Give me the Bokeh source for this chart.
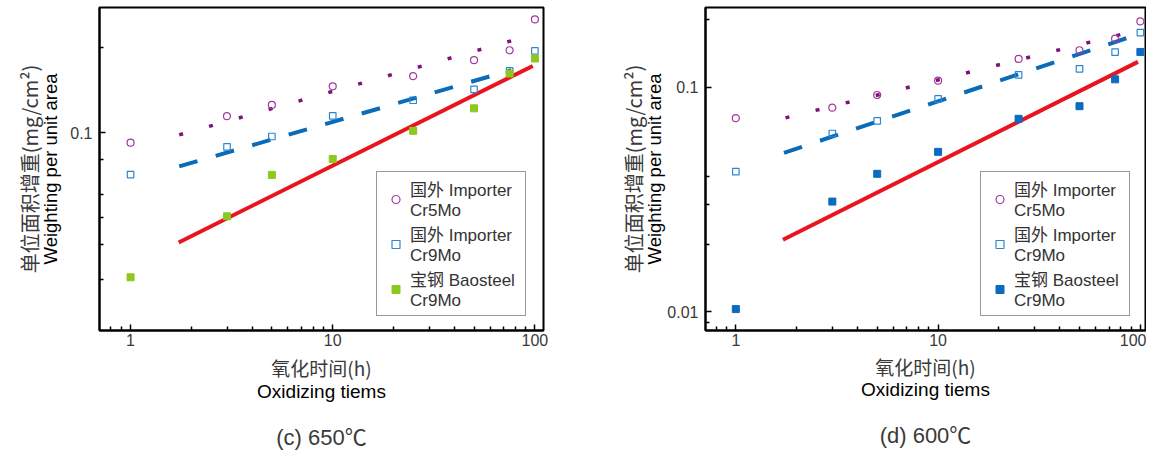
from bokeh.plotting import figure
from bokeh.models import LogAxis, FixedTicker, BasicTickFormatter, Legend, LegendItem, Range1d
from bokeh.layouts import row
from bokeh.embed import file_html
from bokeh.resources import INLINE

# ---------------- data ----------------
hours = [1, 3, 5, 10, 25, 50, 75, 100]

# (c) 650 C
c_cr5mo_imp = [0.0920, 0.1143, 0.1253, 0.1459, 0.1586, 0.1807, 0.1960, 0.2522]
c_cr9mo_imp = [0.0709, 0.0890, 0.0968, 0.1146, 0.1302, 0.1423, 0.1656, 0.1949]
c_cr9mo_bao = [0.0306, 0.0504, 0.0707, 0.0805, 0.1014, 0.1219, 0.1620, 0.1832]
c_fit5_x = [1.74, 88.0]
c_fit5_y = [0.0981, 0.2180]
c_fit9_x = [1.74, 76.4]
c_fit9_y = [0.0758, 0.1666]
c_fitb_x = [1.73, 97.6]
c_fitb_y = [0.0407, 0.1724]

# (d) 600 C
d_cr5mo_imp = [0.0729, 0.0812, 0.0924, 0.1070, 0.1338, 0.1462, 0.1647, 0.1965]
d_cr9mo_imp = [0.0421, 0.0623, 0.0709, 0.0888, 0.1137, 0.1209, 0.1433, 0.1752]
d_cr9mo_bao = [0.0103, 0.0310, 0.0412, 0.0516, 0.0724, 0.0824, 0.1085, 0.1437]
d_fit5_x = [1.76, 90.0]
d_fit5_y = [0.0731, 0.1764]
d_fit9_x = [1.73, 95.3]
d_fit9_y = [0.0511, 0.1710]
d_fitb_x = [1.71, 97.3]
d_fitb_y = [0.02096, 0.1298]

x_major = [1, 10, 100]
x_minor = [0.8, 0.9, 2, 3, 4, 5, 6, 7, 8, 9, 20, 30, 40, 50, 60, 70, 80, 90]
c_y_major = [0.1]
c_y_minor = [0.03, 0.04, 0.05, 0.06, 0.08, 0.2]
d_y_major = [0.01, 0.1]
d_y_minor = [0.009, 0.02, 0.03, 0.04, 0.2]

legend_labels = ["国外 Importer\nCr5Mo", "国外 Importer\nCr9Mo", "宝钢 Baosteel\nCr9Mo"]

LATIN = "Liberation Sans, Noto Sans CJK SC"
CJK = "Noto Sans CJK SC"
GRAY = "#3a3a3a"


def blank_axis(label, size, font, color, standoff):
    return LogAxis(ticker=FixedTicker(ticks=[]), axis_label=label,
                   axis_line_color=None, major_tick_line_color=None,
                   minor_tick_line_color=None, major_label_text_font_size="0px",
                   major_tick_in=0, major_tick_out=0, minor_tick_in=0, minor_tick_out=0,
                   major_label_standoff=0, axis_label_standoff=standoff,
                   axis_label_text_font_size=size, axis_label_text_font_style="normal",
                   axis_label_text_font=font, axis_label_text_color=color)


def make_panel(width, bl, br, bb, xr, yr, ymaj, ymin, s5, s9, sb, f5, f9, fb,
               bao_color, caption, leg_loc, st):
    # st: standoffs (x tick, cjk xlabel, eng xlabel, caption, eng ylabel, cjk ylabel)
    p = figure(width=width, height=452, x_axis_type="log", y_axis_type="log",
               x_range=Range1d(*xr), y_range=Range1d(*yr),
               output_backend="svg", toolbar_location=None,
               min_border_left=bl, min_border_right=br, min_border_top=7,
               min_border_bottom=bb, background_fill_color="white",
               border_fill_color="white")
    p.grid.visible = False
    p.outline_line_color = "black"
    p.outline_line_width = 2

    for ax in (p.xaxis[0], p.yaxis[0]):
        ax.formatter = BasicTickFormatter()
        ax.axis_line_width = 2
        ax.major_tick_in = 6
        ax.major_tick_out = 0
        ax.minor_tick_in = 4
        ax.minor_tick_out = 0
        ax.major_tick_line_width = 1.5
        ax.minor_tick_line_width = 1.5
        ax.major_label_text_font_size = "16px"
        ax.major_label_text_color = GRAY
        ax.major_label_text_font = "Liberation Sans"
        ax.axis_label_text_font_style = "normal"

    xa = p.xaxis[0]
    xa.ticker = FixedTicker(ticks=x_major, minor_ticks=x_minor)
    xa.major_label_standoff = st[0]
    xa.axis_label = "氧化时间(h)"
    xa.axis_label_text_font = CJK
    xa.axis_label_text_font_size = "19px"
    xa.axis_label_text_color = GRAY
    xa.axis_label_standoff = st[1]

    ya = p.yaxis[0]
    ya.ticker = FixedTicker(ticks=ymaj, minor_ticks=ymin)
    ya.major_label_standoff = 7
    ya.axis_label = "Weighting per unit area"
    ya.axis_label_text_font = "Liberation Sans"
    ya.axis_label_text_font_size = "18.5px"
    ya.axis_label_text_color = "black"
    ya.axis_label_standoff = st[4]

    p.add_layout(blank_axis("Oxidizing tiems", "19px", "Liberation Sans", "black", st[2]), "below")
    p.add_layout(blank_axis(caption, "22px", LATIN, GRAY, st[3]), "below")
    p.add_layout(blank_axis("单位面积增重(mg/cm²)", "20px", CJK, GRAY, st[5]), "left")

    p.line(f5[0], f5[1], line_color="#7d127d", line_width=3.5, line_dash="4 27")
    p.line(f9[0], f9[1], line_color="#0a6cb8", line_width=4, line_dash="19 19")
    p.line(fb[0], fb[1], line_color="#e8141e", line_width=4)

    r1 = p.scatter(hours, s5, marker="circle", size=7, fill_color=None,
                   line_color="#a3389f", line_width=1.2)
    r2 = p.scatter(hours, s9, marker="square", size=6.5, fill_color=None,
                   line_color="#2d87d2", line_width=1.2)
    r3 = p.scatter(hours, sb, marker="square", size=7, fill_color=bao_color,
                   line_color=bao_color)

    leg = Legend(items=[LegendItem(label=legend_labels[0], renderers=[r1]),
                        LegendItem(label=legend_labels[1], renderers=[r2]),
                        LegendItem(label=legend_labels[2], renderers=[r3])],
                 location=leg_loc, orientation="vertical", padding=4, spacing=0,
                 margin=0, glyph_width=29, glyph_height=20, label_standoff=0,
                 label_width=111, label_height=34,
                 label_text_font_size="17px", label_text_font=LATIN,
                 label_text_color="#333333", label_text_line_height=1.05,
                 border_line_color="#333333", border_line_width=1.5,
                 background_fill_color="white", background_fill_alpha=1)
    p.add_layout(leg)
    return p


p1 = make_panel(580, 99, 37, 120, (0.702, 110.3), (0.0198, 0.2781),
                c_y_major, c_y_minor, c_cr5mo_imp, c_cr9mo_imp, c_cr9mo_bao,
                (c_fit5_x, c_fit5_y), (c_fit9_x, c_fit9_y), (c_fitb_x, c_fitb_y),
                "#8cc81e", "(c) 650℃", (277, 14), (3, 5, -3, 20, 6, -6))
p2 = make_panel(566, 125, 1, 120, (0.708, 106.0), (0.00827, 0.2266),
                d_y_major, d_y_minor, d_cr5mo_imp, d_cr9mo_imp, d_cr9mo_bao,
                (d_fit5_x, d_fit5_y), (d_fit9_x, d_fit9_y), (d_fitb_x, d_fitb_y),
                "#0a6bbf", "(d) 600℃", (275, 14), (3, 4, -4, 20, -1, -6))

layout = row(p1, p2, spacing=0)
open("out.html", "w").write(file_html(layout, INLINE))
